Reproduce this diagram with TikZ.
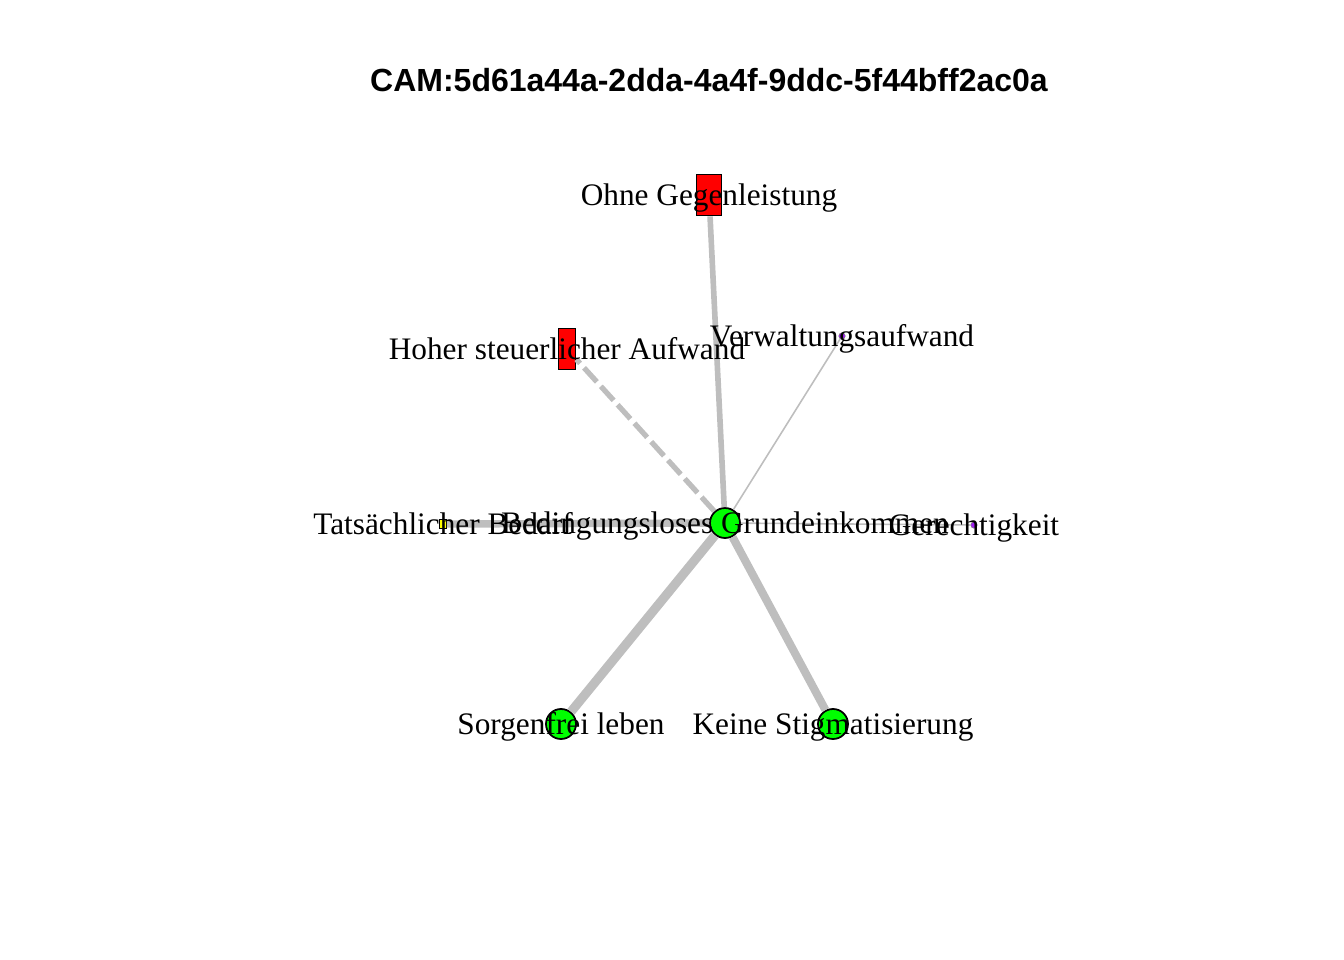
\documentclass[tikz,border=0pt]{standalone}
\usepackage{fontspec}
\usepackage{xcolor}
\setmainfont{Liberation Serif}
\newfontfamily\titlefont{Liberation Sans}
\definecolor{linkgray}{RGB}{190,190,190}
\definecolor{rgreen}{RGB}{0,255,0}
\definecolor{rred}{RGB}{255,0,0}
\definecolor{rpurple}{RGB}{160,32,240}
\definecolor{ryellow}{RGB}{255,255,0}

\begin{document}
\begin{tikzpicture}[x=0.01cm,y=-0.01cm,
        link/.style={draw=linkgray},
        posnode/.style={circle,draw=black,line width=0.5pt,fill=rgreen,inner sep=0pt,minimum size=0.3cm},
        negnode/.style={rectangle,draw=black,line width=0.5pt,fill=rred,inner sep=0pt},
        neunode/.style={circle,draw=black!50,line width=0.15pt,fill=rpurple,inner sep=0pt,minimum size=0.065cm},
        ambnode/.style={rectangle,draw=black,line width=0.3pt,fill=ryellow,inner sep=0pt,minimum width=0.065cm,minimum height=0.085cm},
        lab/.style={anchor=base,yshift=-3.1pt,inner sep=0pt,font=\fontsize{8.9}{10}\selectfont}]
        \useasboundingbox (0,0) rectangle (1344,960);

        \node[anchor=base,inner sep=0pt,font=\titlefont\bfseries\fontsize{9.1}{11}\selectfont] (title) at (709,91) {CAM:5d61a44a-2dda-4a4f-9ddc-5f44bff2ac0a};

        % concepts
        \node[posnode] (bge) at (725,523) {};
        \node[negnode,minimum width=0.25cm,minimum height=0.41cm] (ohne) at (709,195) {};
        \node[negnode,minimum width=0.17cm,minimum height=0.41cm] (hoher) at (567,349) {};
        \node[neunode] (verw) at (842,336) {};
        \node[neunode] (gerecht) at (974,525) {};
        \node[ambnode] (bedarf) at (443,524) {};
        \node[posnode] (sorgen) at (561,724) {};
        \node[posnode] (stigma) at (833,724) {};

        % connections
        \draw[link,line width=1.6pt] (bge) -- (ohne);
        \draw[link,line width=1.5pt,dash pattern=on 5.4pt off 1.7pt] (bge) -- (hoher);
        \draw[link,line width=0.45pt] (bge) -- (verw);
        \draw[link,line width=0.45pt] (bge) -- (gerecht);
        \draw[link,line width=2.1pt] (bge) -- (bedarf);
        \draw[link,line width=2.6pt] (bge) -- (sorgen);
        \draw[link,line width=2.3pt] (bge) -- (stigma);

        % labels
        \node[lab] (bge-l) at (bge) {Bedingungsloses Grundeinkommen};
        \node[lab] (ohne-l) at (ohne) {Ohne Gegenleistung};
        \node[lab] (hoher-l) at (hoher) {Hoher steuerlicher Aufwand};
        \node[lab] (verw-l) at (verw) {Verwaltungsaufwand};
        \node[lab] (gerecht-l) at (gerecht) {Gerechtigkeit};
        \node[lab] (bedarf-l) at (bedarf) {Tatsächlicher Bedarf};
        \node[lab] (sorgen-l) at (sorgen) {Sorgenfrei leben};
        \node[lab] (stigma-l) at (stigma) {Keine Stigmatisierung};
\end{tikzpicture}
\end{document}
